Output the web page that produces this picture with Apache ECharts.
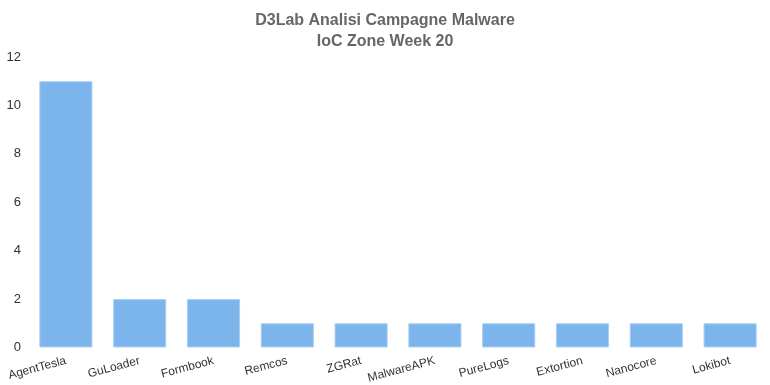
<!DOCTYPE html>
<html><head><meta charset="utf-8">
<script src="https://cdn.jsdelivr.net/npm/echarts@6/dist/echarts.min.js"></script>
<style>html,body{margin:0;padding:0;background:#fff}#c{width:770px;height:385px}</style>
</head><body><div id="c"></div>
<script>
const categories = ['AgentTesla','GuLoader','Formbook','Remcos','ZGRat','MalwareAPK','PureLogs','Extortion','Nanocore','Lokibot'];
const values = [11,2,2,1,1,1,1,1,1,1];
const titleLines = ['D3Lab Analisi Campagne Malware','IoC Zone Week 20'];
const font = 'Liberation Sans, Arial, Helvetica, sans-serif';
const chart = echarts.init(document.getElementById('c'), null, {renderer:'canvas'});
chart.setOption({
  animation:false,
  title:{text:titleLines.join('\n'),left:'center',top:5,
    textStyle:{fontFamily:font,fontSize:16,fontWeight:'bold',color:'#666',lineHeight:21}},
  grid:{left:29,right:3,top:57,bottom:36,containLabel:false},
  xAxis:{type:'category',data:categories,
    axisLine:{show:false},axisTick:{show:false},
    axisLabel:{rotate:15,margin:13,color:'#333',fontFamily:font,fontSize:12,interval:0}},
  yAxis:{type:'value',min:0,max:12,interval:2,
    axisLine:{show:false},axisTick:{show:false},splitLine:{show:false},
    axisLabel:{margin:8,color:'#333',fontFamily:font,fontSize:13}},
  series:[{type:'bar',data:values,barWidth:'72%',
    itemStyle:{color:'#7cb5ec',borderColor:'#a9d0f5',borderWidth:1}}]
});
</script></body></html>
